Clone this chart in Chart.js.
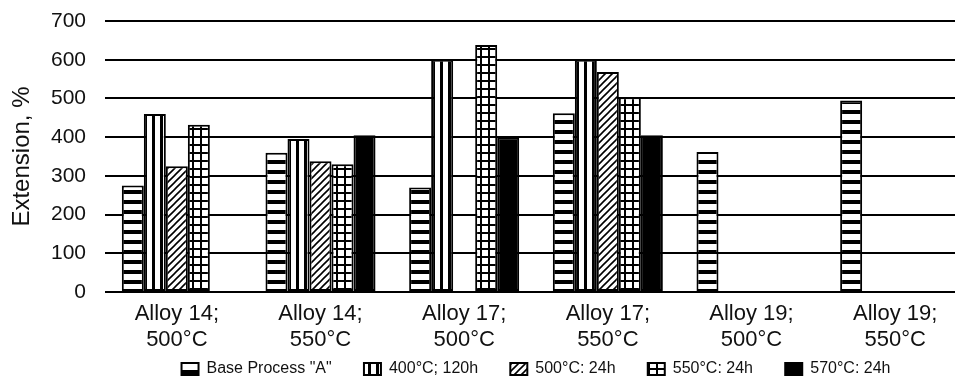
<!DOCTYPE html>
<html>
<head>
<meta charset="utf-8">
<script src="https://cdn.jsdelivr.net/npm/chart.js@4/dist/chart.umd.min.js"></script>
<style>
  html, body { margin: 0; padding: 0; background: #fff; overflow: hidden; }
  #wrap { width: 968px; height: 379px; }
</style>
</head>
<body>
<div id="wrap"><canvas id="extChart"></canvas></div>
<script>
const categories = [
  ['Alloy 14;', '500°C'],
  ['Alloy 14;', '550°C'],
  ['Alloy 17;', '500°C'],
  ['Alloy 17;', '550°C'],
  ['Alloy 19;', '500°C'],
  ['Alloy 19;', '550°C']
]
const seriesNames = ['Base Process "A"', '400°C; 120h', '500°C: 24h', '550°C: 24h', '570°C: 24h']
const baseProcess = [275, 360, 270, 462, 362, 495]
const t400_120h = [460, 395, 600, 600, null, null]
const t500_24h = [325, 338, null, 568, null, null]
const t550_24h = [432, 330, 638, 503, null, null]
const t570_24h = [null, 405, 400, 405, null, null]
const yTicks = [0, 100, 200, 300, 400, 500, 600, 700]

// hatch fills, drawn on small tiles
function makePattern(w, h, draw) {
  const c = document.createElement('canvas')
  c.width = w
  c.height = h
  const g = c.getContext('2d')
  g.fillStyle = '#fff'
  g.fillRect(0, 0, w, h)
  g.fillStyle = '#000'
  g.strokeStyle = '#000'
  draw(g)
  return g.createPattern(c, 'repeat')
}

const horizStripes = makePattern(10, 10, g => g.fillRect(0, 0, 10, 4))
const vertStripes = makePattern(8, 8, g => g.fillRect(0, 0, 3, 8))
const diagHatch = makePattern(7, 7, g => {
  g.lineWidth = 1.6
  g.beginPath()
  g.moveTo(0, 7); g.lineTo(7, 0)
  g.moveTo(-1, 1); g.lineTo(1, -1)
  g.moveTo(6, 8); g.lineTo(8, 6)
  g.stroke()
})
const gridFill = makePattern(8, 8, g => {
  g.fillRect(0, 0, 8, 2)
  g.fillRect(0, 0, 2, 8)
})

const fills = [horizStripes, vertStripes, diagHatch, gridFill, '#000']
const values = [baseProcess, t400_120h, t500_24h, t550_24h, t570_24h]

// trailing spaces widen the gap between legend entries, vertical padding stays small
const datasets = seriesNames.map((name, i) => ({
  label: i < seriesNames.length - 1 ? name + '     ' : name,
  data: values[i],
  backgroundColor: fills[i],
  borderColor: '#000',
  borderWidth: 2,
  borderSkipped: false
}))

new Chart(document.getElementById('extChart'), {
  type: 'bar',
  data: { labels: categories, datasets: datasets },
  options: {
    responsive: true,
    maintainAspectRatio: false,
    animation: false,
    layout: { padding: { top: 21, right: 1, left: 0, bottom: -8 } },
    datasets: { bar: { categoryPercentage: 0.766, barPercentage: 1 } },
    plugins: {
      tooltip: { enabled: false },
      legend: {
        position: 'bottom',
        fullSize: false,
        labels: {
          color: '#111',
          font: { family: 'Liberation Sans, Arial, sans-serif', size: 16 },
          boxWidth: 17,
          boxHeight: 12,
          padding: 10
        }
      }
    },
    scales: {
      x: {
        grid: { display: false, drawTicks: false },
        border: { display: false },
        afterFit: axis => { axis.height -= 11 },
        ticks: {
          color: '#111',
          font: { family: 'Liberation Sans, Arial, sans-serif', size: 22, lineHeight: 1.18 },
          padding: 9,
          maxRotation: 0,
          autoSkip: false
        }
      },
      y: {
        min: 0,
        max: 700,
        afterBuildTicks: axis => { axis.ticks = yTicks.map(v => ({ value: v })) },
        afterFit: axis => {
          axis.width = 105
          axis.paddingTop = 0
          axis.paddingBottom = 0
        },
        grid: { color: '#000', lineWidth: 2, drawTicks: false },
        border: { display: false },
        ticks: {
          color: '#111',
          font: { family: 'Liberation Sans, Arial, sans-serif', size: 21 },
          padding: 19
        },
        title: {
          display: true,
          text: 'Extension, %',
          color: '#111',
          font: { family: 'Liberation Sans, Arial, sans-serif', size: 24 },
          padding: { top: 8, bottom: 13 }
        }
      }
    }
  }
})
</script>
</body>
</html>
